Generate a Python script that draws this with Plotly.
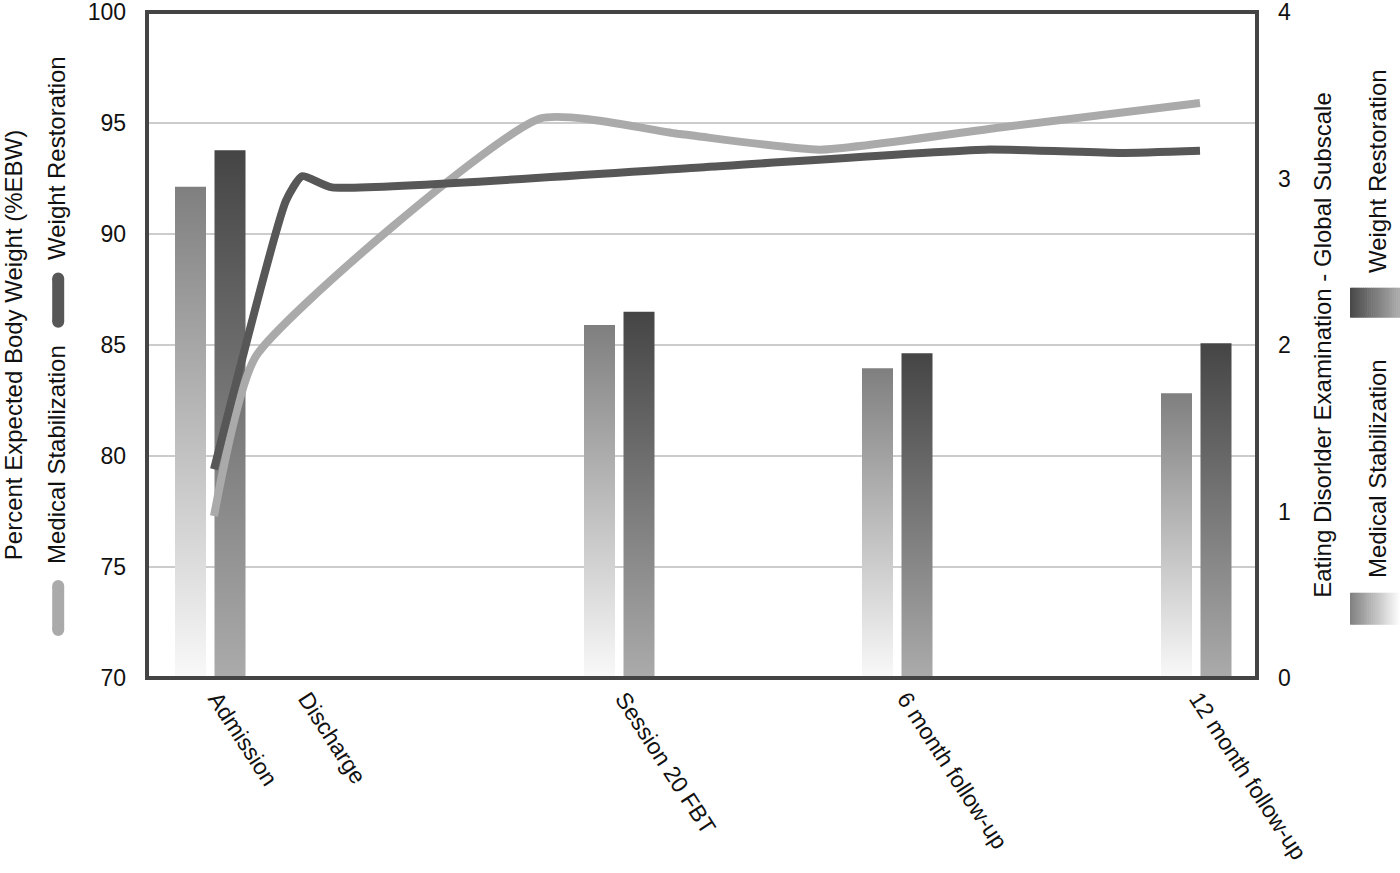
import plotly.graph_objects as go

FONT = "Liberation Sans, Arial, Helvetica, sans-serif"

# x axis: time points (arbitrary spacing)
categories = ["Admission", "Discharge", "Session 20 FBT",
              "6 month follow-up", "12 month follow-up"]
category_x = [0.07, 0.97, 4.14, 6.96, 9.88]

# EDE global subscale (bars, right axis) - no bars at discharge
bar_x = [0.0, 4.09, 6.87, 9.86]
ede_medical = [2.95, 2.12, 1.86, 1.71]
ede_weight = [3.17, 2.20, 1.95, 2.01]

# Percent expected body weight (lines, left axis)
ms_line_x = [0.04, 0.46, 3.30, 4.70, 6.10, 7.90, 9.90]
ms_line_y = [77.3, 84.5, 95.2, 94.5, 93.8, 94.8, 95.9]
wr_line_x = [0.04, 0.76, 0.92, 1.22, 4.90, 7.75, 9.10, 9.90]
wr_line_y = [79.4, 91.5, 92.6, 92.1, 93.0, 93.8, 93.65, 93.75]

MS_LINE = "#aaaaaa"
WR_LINE = "#575757"
MS_BAR_SCALE = [[0, "#f9f9f9"], [1, "#7f7f7f"]]
WR_BAR_SCALE = [[0, "#ababab"], [1, "#454545"]]
BAR_W = 0.31

fig = go.Figure()


def add_bar(center, value, scale):
    x0 = center - BAR_W / 2
    x1 = center + BAR_W / 2
    fig.add_trace(
        go.Scatter(
            x=[x0, x1, x1, x0, x0],
            y=[0, 0, value, value, 0],
            mode="lines",
            line=dict(width=0),
            fill="toself",
            fillgradient=dict(type="vertical", colorscale=scale),
            yaxis="y",
            showlegend=False,
            hoverinfo="skip",
        )
    )


# бары рисуются на основной оси (справа), чтобы линии были поверх
for cx, v in zip(bar_x, ede_medical):
    add_bar(cx - 0.195, v, MS_BAR_SCALE)
for cx, v in zip(bar_x, ede_weight):
    add_bar(cx + 0.2, v, WR_BAR_SCALE)

fig.add_trace(
    go.Scatter(
        x=ms_line_x,
        y=ms_line_y,
        mode="lines",
        line=dict(color=MS_LINE, width=8, shape="spline", smoothing=0.5),
        yaxis="y2",
        name="Medical Stabilization",
        showlegend=False,
    )
)
fig.add_trace(
    go.Scatter(
        x=wr_line_x,
        y=wr_line_y,
        mode="lines",
        line=dict(color=WR_LINE, width=8, shape="spline", smoothing=0.5),
        yaxis="y2",
        name="Weight Restoration",
        showlegend=False,
    )
)

tick_font = dict(family=FONT, size=23, color="#111111")
title_font = dict(family=FONT, size=24, color="#111111")

annotations = [
    # left legend
    dict(text="Weight Restoration", x=-0.081, y=0.781, textangle=-90),
    dict(text="Medical Stabilization", x=-0.081, y=0.335, textangle=-90),
    # right legend
    dict(text="Weight Restoration", x=1.108, y=0.761, textangle=-90),
    dict(text="Medical Stabilization", x=1.108, y=0.315, textangle=-90),
]
for a in annotations:
    a.update(xref="paper", yref="paper", showarrow=False,
             xanchor="center", yanchor="middle", font=title_font)

shapes = []


def line_swatch(y0, y1, color, x=-0.080, w=12):
    # толстая линия с круглыми концами
    shapes.append(dict(type="line", xref="paper", yref="paper", x0=x, x1=x,
                       y0=y0, y1=y1, line=dict(color=color, width=w)))
    for yy in (y0, y1):
        shapes.append(dict(
            type="circle", xref="paper", yref="paper",
            xsizemode="pixel", ysizemode="pixel", xanchor=x, yanchor=yy,
            x0=-w / 2, x1=w / 2, y0=-w / 2, y1=w / 2,
            fillcolor=color, line=dict(width=0),
        ))


line_swatch(0.535, 0.600, WR_LINE)
line_swatch(0.072, 0.138, MS_LINE)


def gradient_swatch(y0, y1, c_left, c_right, n=26):
    x_start, x_end = 1.0838, 1.1288
    step = (x_end - x_start) / n
    for i in range(n):
        t = i / (n - 1)
        c = [round(a + (b - a) * t) for a, b in zip(c_left, c_right)]
        shapes.append(dict(
            type="rect", xref="paper", yref="paper",
            x0=x_start + i * step, x1=x_start + (i + 1) * step + 0.0005,
            y0=y0, y1=y1, line=dict(width=0),
            fillcolor=f"rgb({c[0]},{c[1]},{c[2]})",
        ))


gradient_swatch(0.541, 0.586, (74, 74, 74), (172, 172, 172))
gradient_swatch(0.080, 0.128, (130, 130, 130), (252, 252, 252))

# рамка области построения
shapes.append(dict(type="rect", xref="paper", yref="paper", x0=0, x1=1,
                   y0=0, y1=1, line=dict(color="#444444", width=4),
                   layer="above"))

fig.update_layout(
    width=1400,
    height=873,
    margin=dict(l=147, r=143, t=12, b=195, autoexpand=False),
    paper_bgcolor="white",
    plot_bgcolor="white",
    font=dict(family=FONT, size=23, color="#111111"),
    xaxis=dict(
        range=[-0.63, 10.47],
        tickvals=category_x,
        ticktext=categories,
        tickangle=57,
        tickfont=tick_font,
        showgrid=False,
        zeroline=False,
        ticks="",
        showline=False,
        ticklabelstandoff=2,
        automargin=False,
    ),
    yaxis=dict(
        range=[0, 4],
        side="right",
        dtick=1,
        tickfont=tick_font,
        showgrid=False,
        zeroline=False,
        ticks="",
        ticklabelstandoff=20,
        ticklabeloverflow="allow",
        automargin=False,
        title=dict(text="Eating Disorlder Examination - Global Subscale",
                   font=title_font, standoff=24),
    ),
    yaxis2=dict(
        range=[70, 100],
        overlaying="y",
        side="left",
        dtick=5,
        tickfont=tick_font,
        showgrid=True,
        gridcolor="#cccccc",
        gridwidth=2,
        zeroline=False,
        ticks="",
        ticklabelstandoff=20,
        ticklabeloverflow="allow",
        automargin=False,
        title=dict(text="Percent Expected Body Weight (%EBW)",
                   font=title_font, standoff=70),
    ),
    annotations=annotations,
    shapes=shapes,
)

# страница без отступа body, чтобы рисунок начинался с (0, 0)
fig.write_html(
    "out.html",
    config={"displayModeBar": False},
    post_script="document.body.style.margin='0';",
)
